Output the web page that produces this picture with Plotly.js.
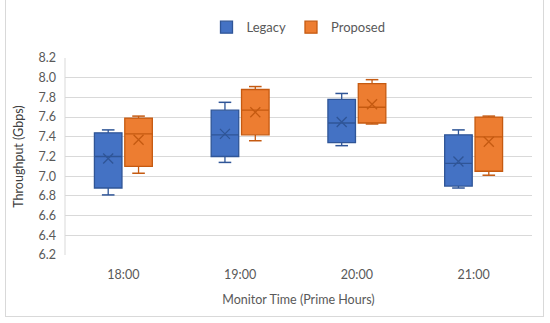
<!DOCTYPE html>
<html>
<head>
<meta charset="utf-8">
<script src="https://cdn.plot.ly/plotly-3.0.1.min.js"></script>
<style>
  html, body { margin: 0; padding: 0; background: #fff; }
  #wrap { position: relative; width: 550px; height: 323px; }
  #chart { width: 550px; height: 323px; }
  #frame { position: absolute; left: 5px; top: -1px; width: 537px; height: 316px; border: 1px solid #D9D9D9; pointer-events: none; }
</style>
</head>
<body>
<div id="wrap"><div id="chart"></div><div id="frame"></div></div>
<script>
const categories = ["18:00", "19:00", "20:00", "21:00"];
const seriesNames = ["Legacy", "Proposed"];

const legacyMin    = [6.81, 7.14, 7.31, 6.88];
const legacyQ1     = [6.88, 7.20, 7.34, 6.90];
const legacyMedian = [7.20, 7.42, 7.54, 7.13];
const legacyQ3     = [7.44, 7.67, 7.78, 7.42];
const legacyMax    = [7.47, 7.75, 7.84, 7.47];
const legacyMean   = [7.18, 7.43, 7.55, 7.15];

const proposedMin    = [7.03, 7.36, 7.53, 7.01];
const proposedQ1     = [7.10, 7.42, 7.54, 7.05];
const proposedMedian = [7.43, 7.67, 7.70, 7.40];
const proposedQ3     = [7.59, 7.88, 7.94, 7.60];
const proposedMax    = [7.61, 7.91, 7.98, 7.61];
const proposedMean   = [7.37, 7.65, 7.73, 7.35];

const yTicks = [6.2, 6.4, 6.6, 6.8, 7.0, 7.2, 7.4, 7.6, 7.8, 8.0, 8.2];

const series = [
  {name: seriesNames[0], min: legacyMin, q1: legacyQ1, med: legacyMedian, q3: legacyQ3, max: legacyMax, mean: legacyMean,
   fill: "#4472C4", line: "#2F5597", offset: -0.13},
  {name: seriesNames[1], min: proposedMin, q1: proposedQ1, med: proposedMedian, q3: proposedQ3, max: proposedMax, mean: proposedMean,
   fill: "#ED7D31", line: "#C55A11", offset: 0.13}
];

const FONT = "Lato, 'Open Sans', sans-serif";
const traces = [];
series.forEach(s => {
  const xs = categories.map((c, i) => i + s.offset);
  traces.push({
    type: "box", name: s.name, x: xs,
    q1: s.q1, median: s.med, q3: s.q3, lowerfence: s.min, upperfence: s.max,
    width: 0.236, boxpoints: false, whiskerwidth: 0,
    fillcolor: s.fill, line: {color: s.line, width: 1.3},
    hoverinfo: "skip", showlegend: true
  });
  traces.push({
    type: "scatter", mode: "markers", x: xs, y: s.mean, showlegend: false, hoverinfo: "skip",
    marker: {symbol: "x-thin", size: 10, line: {color: s.line, width: 1.3}}
  });
  traces.push({
    type: "scatter", mode: "markers", x: xs.concat(xs), y: s.min.concat(s.max), showlegend: false, hoverinfo: "skip",
    marker: {symbol: "line-ew", size: 9, line: {color: s.line, width: 1.5}}
  });
});

const layout = {
  width: 550, height: 323,
  margin: {l: 65, r: 18, t: 50, b: 68},
  paper_bgcolor: "#fff", plot_bgcolor: "#fff",
  font: {family: FONT, size: 12, color: "#595959"},
  showlegend: true,
  legend: {orientation: "h", x: 0.5, xanchor: "center", y: 1.156, yanchor: "middle",
           font: {family: FONT, size: 13, color: "#595959"}, traceorder: "normal"},
  xaxis: {
    range: [-0.5, categories.length - 0.5],
    tickvals: categories.map((c, i) => i), ticktext: categories,
    showgrid: false, zeroline: false, showline: false, ticks: "",
    ticklabelstandoff: 10,
    tickfont: {family: FONT, size: 12.5, color: "#595959"},
    title: {text: "Monitor Time (Prime Hours)", font: {family: FONT, size: 12.5, color: "#595959"}, standoff: 14}
  },
  yaxis: {
    range: [yTicks[0], yTicks[yTicks.length - 1]],
    tickvals: yTicks, tickformat: ".1f",
    showgrid: true, gridcolor: "#D9D9D9", gridwidth: 1,
    zeroline: false, showline: false, ticks: "",
    ticklabelstandoff: 8,
    tickfont: {family: FONT, size: 12.5, color: "#595959"},
    title: {text: "Throughput (Gbps)", font: {family: FONT, size: 12.5, color: "#404040"}, standoff: 12}
  },
  shapes: [
    {type: "line", xref: "paper", yref: "paper", x0: 0, x1: 0, y0: 0, y1: 1, line: {color: "#D9D9D9", width: 1}}
  ]
};

Plotly.newPlot("chart", traces, layout, {staticPlot: true, displayModeBar: false});
</script>
</body>
</html>
